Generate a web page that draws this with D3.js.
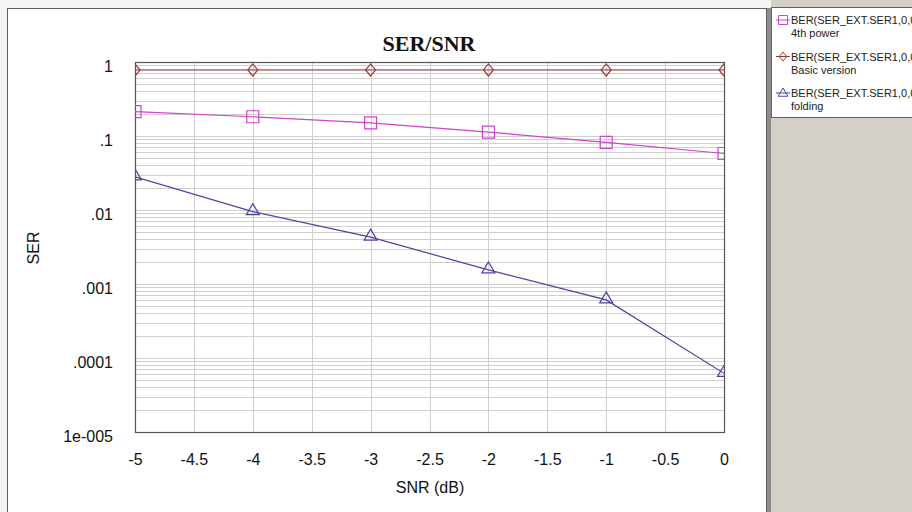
<!DOCTYPE html>
<html>
<head>
  <meta charset="UTF-8">
  <title>SER/SNR</title>
  <script src="https://d3js.org/d3.v7.min.js"></script>
  <style>
    body { margin: 0; background: #d4d0c8; }
    svg { display: block; font-family: Arial, "Liberation Sans", sans-serif; }
  </style>
</head>
<body>
  <svg></svg>
</body>
<script>
  // data
  let snr = [-5, -4, -3, -2, -1, 0];
  let ser4th = [0.213, 0.182, 0.15, 0.113, 0.082, 0.058];
  let serBasic = [0.78, 0.78, 0.78, 0.78, 0.78, 0.78];
  let serFolding = [0.028, 0.0095, 0.0043, 0.00155, 0.00061, 0.000062];

  let xTicks = d3.range(-5, 0.01, 0.5);
  let yTickValues = [1, 0.1, 0.01, 0.001, 0.0001, 0.00001];
  let yTickLabels = ["1", ".1", ".01", ".001", ".0001", "1e-005"];

  let legendNames = ["4th power", "Basic version", "folding"];
  let legendPrefix = "BER(SER_EXT.SER1,0,0";

  let width = 912,
    height = 512;

  let svg = d3.select("svg")
    .attr("width", width)
    .attr("height", height);

  // window background pieces
  svg.append("rect").attr("x", 0).attr("y", 0).attr("width", width).attr("height", height).attr("fill", "#d4d0c8");
  svg.append("rect").attr("x", 0).attr("y", 0).attr("width", 771).attr("height", 8).attr("fill", "#f4f4f4");
  svg.append("rect").attr("x", 0).attr("y", 0).attr("width", 7).attr("height", height).attr("fill", "#f4f4f4");
  svg.append("rect").attr("x", 766).attr("y", 8).attr("width", 5).attr("height", height).attr("fill", "#8c8c8c");
  svg.append("rect").attr("x", 7.5).attr("y", 8.5).attr("width", 759).attr("height", 510)
    .attr("fill", "white").attr("stroke", "#606060");

  let plot = { left: 135, right: 724, top: 62, bottom: 432 };

  let x = d3.scaleLinear().domain([-5, 0]).range([plot.left, plot.right]);
  let y = d3.scaleLog().domain([0.00001, 1]).range([plot.bottom, plot.top]);

  // grid
  let minor = [];
  for (let e = -5; e < 0; e++) {
    for (let m = 1; m < 10; m++) minor.push(m * Math.pow(10, e));
  }
  let grid = svg.append("g").attr("id", "grid");
  grid.selectAll(".hgrid")
    .data(minor)
    .enter()
    .append("line")
    .attr("x1", plot.left).attr("x2", plot.right)
    .attr("y1", d => Math.round(y(d)) + 0.5)
    .attr("y2", d => Math.round(y(d)) + 0.5)
    .attr("stroke", "#d0d0d0").attr("stroke-width", 1);
  grid.selectAll(".vgrid")
    .data(xTicks)
    .enter()
    .append("line")
    .attr("y1", plot.top).attr("y2", plot.bottom)
    .attr("x1", d => Math.round(x(d)) + 0.5)
    .attr("x2", d => Math.round(x(d)) + 0.5)
    .attr("stroke", "#d0d0d0").attr("stroke-width", 1);

  svg.append("rect")
    .attr("x", plot.left + 0.5).attr("y", plot.top + 0.5)
    .attr("width", plot.right - plot.left).attr("height", plot.bottom - plot.top)
    .attr("fill", "none").attr("stroke", "#555").attr("stroke-width", 1.2);

  // axis labels
  let xAxis = d3.axisBottom(x).tickValues(xTicks).tickSize(0).tickPadding(22)
    .tickFormat(d => d3.format("")(d).replace("−", "-"));
  let gx = svg.append("g").attr("transform", "translate(0," + plot.bottom + ")").call(xAxis);
  gx.select(".domain").remove();
  gx.selectAll("text").attr("font-size", 16).attr("font-family", "Arial, 'Liberation Sans'").attr("fill", "#111");

  let yAxis = d3.axisLeft(y).tickValues(yTickValues).tickSize(0).tickPadding(22)
    .tickFormat((d, i) => yTickLabels[i]);
  let gy = svg.append("g").attr("transform", "translate(" + plot.left + ",0)").call(yAxis);
  gy.select(".domain").remove();
  gy.selectAll("text").attr("font-size", 16).attr("dy", "0.58em").attr("font-family", "Arial, 'Liberation Sans'").attr("fill", "#111");

  svg.append("text").attr("x", 430).attr("y", 493).attr("text-anchor", "middle")
    .attr("font-size", 16).attr("fill", "#111").text("SNR (dB)");
  svg.append("text").attr("transform", "translate(39,248) rotate(-90)").attr("text-anchor", "middle")
    .attr("font-size", 16).attr("fill", "#111").text("SER");
  svg.append("text").attr("x", 429).attr("y", 51).attr("text-anchor", "middle")
    .attr("font-family", "'Liberation Serif', 'Times New Roman', serif").attr("font-weight", "bold")
    .attr("font-size", 22).attr("fill", "#111").text("SER/SNR");

  // series
  svg.append("clipPath").attr("id", "clip").append("rect")
    .attr("x", plot.left).attr("y", plot.top)
    .attr("width", plot.right - plot.left).attr("height", plot.bottom - plot.top);

  let series = [
    { name: legendNames[0], values: ser4th, color: "#cc44cc", shape: "square" },
    { name: legendNames[1], values: serBasic, color: "#993838", shape: "diamond" },
    { name: legendNames[2], values: serFolding, color: "#4646a0", shape: "triangle" }
  ];

  function markerPath(shape) {
    if (shape == "square") return "M-6,-6H6V6H-6Z";
    if (shape == "diamond") return "M0,-6L5,0L0,6L-5,0Z";
    return "M0,-8L6.5,3L-6.5,3Z";
  }

  let line = d3.line().x(d => x(d[0])).y(d => y(d[1]));
  let plotG = svg.append("g").attr("clip-path", "url(#clip)");

  series.forEach(s => {
    let pts = snr.map((v, i) => [v, s.values[i]]);
    plotG.append("path")
      .datum(pts)
      .attr("fill", "none")
      .attr("stroke", s.color)
      .attr("stroke-width", 1.2)
      .attr("d", line);
    plotG.selectAll(null)
      .data(pts)
      .enter()
      .append("path")
      .attr("transform", d => "translate(" + x(d[0]) + "," + y(d[1]) + ")")
      .attr("d", markerPath(s.shape))
      .attr("fill", "none")
      .attr("stroke", s.color)
      .attr("stroke-width", 1.2);
  });

  // legend box (text runs past the window edge, as in the original)
  let legend = svg.append("g");
  legend.append("rect").attr("x", 771.5).attr("y", 7.5).attr("width", 145).attr("height", 110)
    .attr("fill", "white").attr("stroke", "#606060");

  let entry = legend.selectAll(".entry")
    .data(series)
    .enter()
    .append("g")
    .attr("transform", (d, i) => "translate(0," + (20 + i * 36.5) + ")");
  entry.append("line").attr("x1", 776).attr("x2", 790).attr("y1", 0).attr("y2", 0)
    .attr("stroke", d => d.color);
  entry.append("path")
    .attr("transform", d => "translate(783," + (d.shape == "triangle" ? 1 : 0) + ") scale(0.75)")
    .attr("d", d => markerPath(d.shape))
    .attr("fill", "none").attr("stroke", d => d.color).attr("stroke-width", 1.3);
  entry.append("text").attr("x", 791).attr("y", 4).attr("font-size", 11).attr("fill", "#222")
    .text(legendPrefix);
  entry.append("text").attr("x", 791).attr("y", 17).attr("font-size", 11).attr("fill", "#222")
    .text(d => d.name);
</script>
</html>
